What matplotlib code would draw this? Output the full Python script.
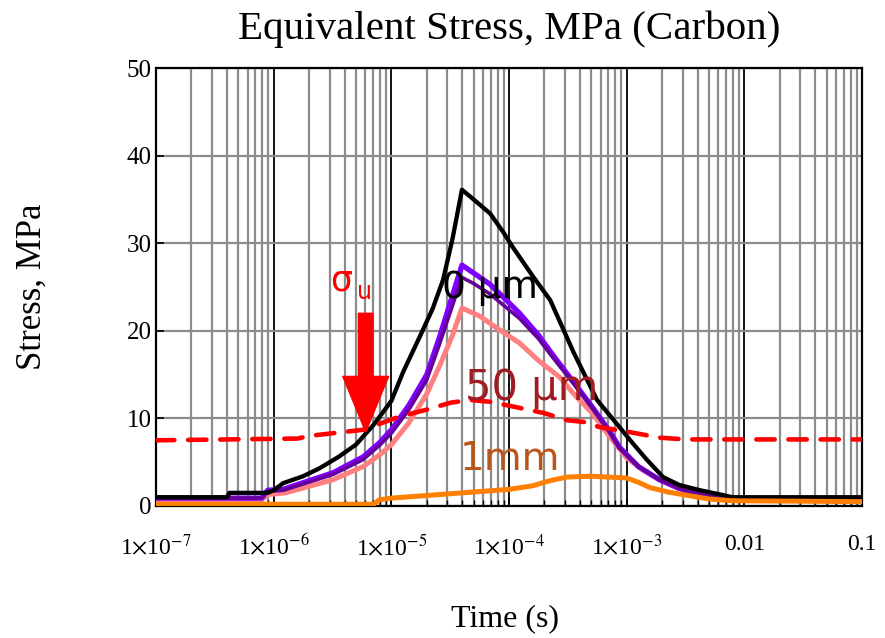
import numpy as np
import matplotlib
matplotlib.use('Agg')
import matplotlib.pyplot as plt
from matplotlib.ticker import LogLocator, NullFormatter

plt.rcParams['font.family'] = ['Liberation Serif', 'DejaVu Serif']
plt.rcParams['mathtext.fontset'] = 'stix'

# --- data (time in s, stress in MPa) ---
t_black = [1e-7, 4.0e-7, 4.2e-7, 8.9e-7, 1.0e-6, 1.2e-6, 1.78e-6, 2.45e-6, 3.55e-6,
           5.0e-6, 7.1e-6, 1e-5, 1.26e-5, 1.74e-5, 2.24e-5, 2.75e-5, 3.31e-5, 3.98e-5,
           5.0e-5, 6.9e-5, 8.9e-5, 1.07e-4, 1.58e-4, 2.24e-4, 3.55e-4, 5.6e-4,
           8.7e-4, 1.12e-3, 1.48e-3, 2.04e-3, 2.8e-3, 4.2e-3, 6.3e-3, 7.9e-3, 0.1]
s_black = [1.0, 1.0, 1.5, 1.5, 1.8, 2.6, 3.4, 4.3, 5.6,
           7.0, 9.3, 12.0, 15.3, 19.3, 22.5, 25.8, 30.5, 36.1,
           35.0, 33.4, 31.3, 29.6, 26.3, 23.5, 17.5, 12.1,
           9.0, 7.2, 5.3, 3.3, 2.4, 1.8, 1.3, 1.0, 1.0]

t_purple = [1e-7, 7.9e-7, 8.9e-7, 1.2e-6, 3.2e-6, 5.75e-6, 7.9e-6, 1e-5, 1.41e-5,
            2.0e-5, 2.57e-5, 3.98e-5, 5.0e-5, 6.9e-5, 1e-4, 1.23e-4, 1.78e-4,
            2.34e-4, 3.16e-4, 5.1e-4, 7.1e-4, 8.7e-4, 1.26e-3, 1.9e-3, 2.8e-3,
            4.2e-3, 6.3e-3, 7.9e-3, 0.1]
s_purple = [0.9, 0.9, 1.8, 1.9, 3.8, 5.6, 7.2, 8.7, 11.5,
            15.0, 19.3, 27.5, 26.6, 25.3, 23.2, 22.0, 19.5,
            17.3, 15.0, 11.3, 8.6, 6.7, 4.5, 3.0, 2.0,
            1.3, 0.9, 0.8, 0.8]

t_dpurple = t_purple
s_dpurple = [0.9, 0.9, 1.7, 1.8, 3.6, 5.3, 6.9, 8.3, 11.0,
             14.4, 18.5, 26.1, 25.4, 24.2, 22.4, 21.4, 19.1,
             17.0, 14.8, 11.2, 8.5, 6.6, 4.5, 3.0, 2.0,
             1.3, 0.9, 0.8, 0.8]

t_pink = [1e-7, 7.9e-7, 8.9e-7, 1.26e-6, 3.2e-6, 5.75e-6, 7.9e-6, 1e-5, 1.41e-5,
          2.0e-5, 2.57e-5, 3.31e-5, 3.98e-5, 5.6e-5, 7.9e-5, 1.23e-4, 1.78e-4,
          2.7e-4, 3.55e-4, 5.1e-4, 7.1e-4, 1e-3, 1.41e-3, 1.9e-3, 2.8e-3,
          4.2e-3, 6.3e-3, 7.9e-3, 0.1]
s_pink = [0.7, 0.7, 1.3, 1.5, 3.0, 4.5, 5.8, 7.0, 9.5,
          12.8, 16.0, 19.5, 22.6, 21.7, 20.3, 18.6, 16.6,
          14.7, 12.8, 10.6, 8.0, 5.5, 4.0, 3.0, 2.0,
          1.3, 0.9, 0.8, 0.7]

t_orange = [1e-7, 7.1e-6, 7.9e-6, 1e-5, 3.2e-5, 1e-4, 1.58e-4, 2.24e-4, 3.1e-4,
            5.0e-4, 1e-3, 1.26e-3, 1.58e-3, 2.24e-3, 3.0e-3, 5.0e-3, 7.9e-3, 0.1]
s_orange = [0.2, 0.2, 0.7, 0.9, 1.4, 1.9, 2.3, 2.9, 3.3,
            3.4, 3.2, 2.7, 2.1, 1.6, 1.3, 0.8, 0.6, 0.5]

t_sigma = [1e-7, 1.6e-6, 2.0e-6, 5.75e-6, 1.17e-5, 2.0e-5, 3.2e-5, 4.7e-5, 6.9e-5,
           1.23e-4, 2.0e-4, 3.1e-4, 4.3e-4, 5.9e-4, 1e-3, 1.9e-3, 3.2e-3, 0.1]
s_sigma = [7.5, 7.7, 8.0, 8.7, 10.2, 11.0, 11.8, 12.1, 11.9,
           11.2, 10.6, 9.8, 9.6, 9.0, 8.5, 7.8, 7.6, 7.6]

xtick_vals = [1e-7, 1e-6, 1e-5, 1e-4, 1e-3, 1e-2, 1e-1]
xtick_labels = [r'1$\times$10$^{-7}$', r'1$\times$10$^{-6}$', r'1$\times$10$^{-5}$',
                r'1$\times$10$^{-4}$', r'1$\times$10$^{-3}$', '0.01', '0.1']
ytick_vals = [0, 10, 20, 30, 40, 50]

fig = plt.figure(figsize=(8.85, 6.38), dpi=100)
ax = fig.add_axes([0.1763, 0.2069, 0.7977, 0.6865])

ax.plot(t_pink, s_pink, color='#ff8080', lw=3.6, zorder=3)
ax.plot(t_purple, s_purple, color='#8000ff', lw=3.8, zorder=3)
ax.plot(t_dpurple, s_dpurple, color='#660099', lw=2.6, zorder=3)
ax.plot(t_black, s_black, color='black', lw=3.1, zorder=4)
ax.plot(t_orange, s_orange, color='#ff8000', lw=3.6, zorder=4)
ax.plot(t_sigma, s_sigma, color='red', lw=3.3, dashes=(4.0, 3.0),
        dash_capstyle='round', zorder=5)

ax.set_xscale('log')
ax.set_xlim(1e-7, 0.1)
ax.set_ylim(0, 50)
ax.set_xticks(xtick_vals)
ax.set_xticklabels(xtick_labels)
ax.xaxis.set_minor_locator(LogLocator(base=10, subs=np.arange(2, 10), numticks=20))
ax.xaxis.set_minor_formatter(NullFormatter())
ax.set_yticks(ytick_vals)

ax.grid(which='minor', axis='x', color='#8c8c8c', lw=1.6, zorder=1)
ax.grid(which='major', axis='x', color='#111111', lw=1.4, zorder=1)
ax.grid(which='major', axis='y', color='#8c8c8c', lw=1.6, zorder=1)
ax.set_axisbelow(True)

ax.tick_params(which='both', direction='in', colors='black')
ax.tick_params(axis='x', labelsize=17, pad=20)
ax.tick_params(axis='y', labelsize=18, pad=3)
ax.tick_params(which='major', length=6, width=1.2)
ax.tick_params(which='minor', length=4, width=1.0)
for sp in ax.spines.values():
    sp.set_linewidth(1.6)

ax.set_title('Equivalent Stress, MPa (Carbon)', fontsize=29.5, pad=21)
ax.set_xlabel('Time (s)', fontsize=23)
ax.xaxis.set_label_coords(0.494, -0.225)
ax.set_ylabel('Stress, MPa', fontsize=25)
ax.yaxis.set_label_coords(-0.152, 0.5)

# annotations
ax.text(0.247, 0.493, 'σ', transform=ax.transAxes, color='red', fontsize=25,
        family='DejaVu Sans', zorder=6)
ax.text(0.284, 0.472, 'u', transform=ax.transAxes, color='red', fontsize=17,
        family='DejaVu Sans', zorder=6)
ax.annotate('', xy=(0.297, 0.169), xytext=(0.297, 0.440),
            xycoords='axes fraction', textcoords='axes fraction',
            arrowprops=dict(arrowstyle='simple,head_width=3.3,head_length=4.0,tail_width=1.05',
                            color='red', shrinkA=0, shrinkB=0, mutation_scale=10),
            zorder=6)
ax.text(0.405, 0.475, '0 μm', transform=ax.transAxes, color='black', fontsize=27,
        family='DejaVu Sans', zorder=6)
ax.text(0.438, 0.242, '50 μm', transform=ax.transAxes, color='#a01c22', fontsize=30,
        family='DejaVu Sans', zorder=6)
ax.text(0.430, 0.082, '1mm', transform=ax.transAxes, color='#b8561c', fontsize=28,
        family='DejaVu Sans', zorder=6)

fig.savefig('out.png', dpi=100)
